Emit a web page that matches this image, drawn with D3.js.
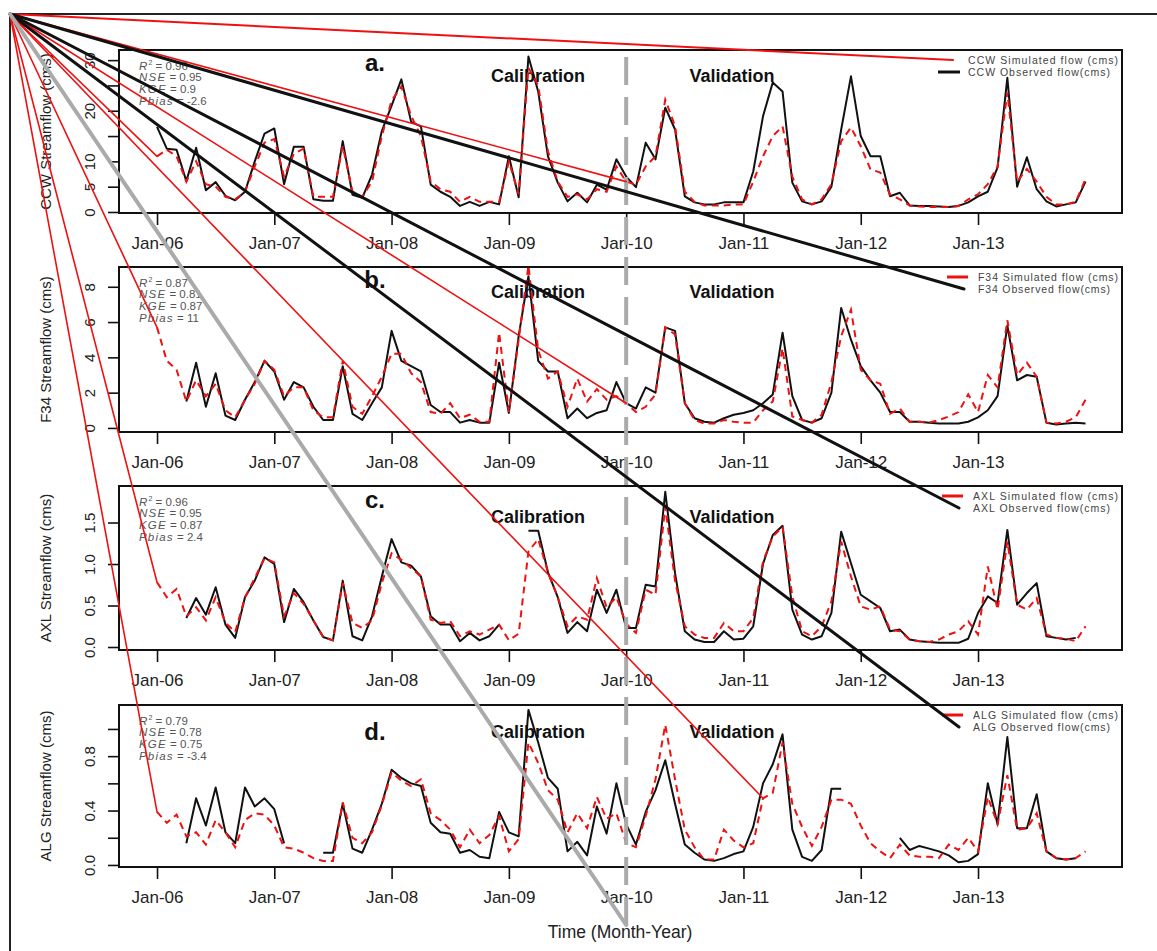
<!DOCTYPE html>
<html><head><meta charset="utf-8">
<script src="https://cdn.jsdelivr.net/npm/d3@7"></script>
<style>body{margin:0;background:#fff}svg{display:block}text{font-family:"Liberation Sans",Arial,sans-serif}</style>
</head><body><svg id="c" width="1157" height="951"></svg>
<script>
const months = d3.range(96);
const xTickMonths = [0,12,24,36,48,60,72,84];
const xTickLabels = ["Jan-06","Jan-07","Jan-08","Jan-09","Jan-10","Jan-11","Jan-12","Jan-13"];
const splitMonth = 48;
const siteNames = ["CCW","F34","AXL","ALG"];
const panelLetters = ["a.","b.","c.","d."];
const statNames = ["R","NSE","KGE","Pbias"];

const ccwObs = [16.8,12.5,12.3,6.1,12.7,4.3,5.9,3.2,2.3,4,10,15.5,16.5,5.5,12.9,12.9,2.5,2.2,2.2,14,3.4,2.8,7.4,16,21,26.2,17.8,16.9,5.4,4,3,1.2,2,1.2,2,1.5,11,2.9,30.7,23.8,11,5.8,2.1,3.8,1.9,5.4,4.4,10.4,7,4.9,13.7,10.4,20.6,16.3,3.1,1.9,1.5,1.5,1.9,1.9,1.9,8,18.9,25.6,23.8,5.8,2.1,1.5,2.1,5,16.3,26.8,15,11,11,3.1,3.8,1.3,1.2,1.2,1.1,1.0,1.2,1.9,3.1,4,8.8,26.5,5,10.8,4.5,2.1,1.1,1.5,1.9,6];
const ccwSim = [11,12.3,11,6,10,5.5,5,3,2.5,4,9,13.7,14.4,7,11.5,12.5,3,3,3,13,4,3,6,15,22,24.8,19,15,6,4.5,4,2,3,2,2,2,10,3.5,28.5,25,12,6,3,3.5,2.5,4.5,4,9,6,5.4,9,11,22.2,17,4,2,1.3,1.3,1.3,1.5,1.5,6,11,15,16.9,7,2.5,1.5,2.5,5.5,14,16.7,13,8.4,7.8,3.4,2.5,1.3,1.1,1.0,1.0,1.0,1.2,2.5,3.5,5.5,9,23.6,6,8.5,6,3,1.5,1.5,2,6.5];

const f34Obs = [null,null,null,1.5,3.7,1.2,3.1,0.7,0.45,1.6,2.6,3.8,3.2,1.6,2.6,2.3,1.2,0.45,0.45,3.5,0.8,0.45,1.4,2.3,5.5,3.8,3.5,3.2,1.3,0.9,0.9,0.3,0.45,0.3,0.3,3.7,0.85,5.2,8.6,3.8,3.2,3.2,0.55,1.1,0.55,0.85,1.0,2.6,1.4,1.1,2.3,2.0,5.7,5.5,1.4,0.55,0.35,0.3,0.55,0.75,0.85,1.0,1.4,1.9,5.4,1.8,0.45,0.3,0.55,2.0,6.8,5.0,3.5,2.7,2.0,0.9,0.9,0.35,0.35,0.3,0.25,0.25,0.25,0.35,0.6,1.0,1.8,5.8,2.7,3.0,2.9,0.3,0.2,0.25,0.3,0.25];
const f34Sim = [5.7,3.8,3.3,1.5,2.7,1.8,2.5,1.0,0.6,1.6,2.5,3.8,3.3,1.8,2.3,2.3,1.0,0.6,0.6,3.8,1.2,0.8,1.8,2.9,4.2,4.2,3.1,2.6,0.9,0.8,1.4,0.55,0.75,0.35,0.35,5.4,0.9,5.0,9.2,4.4,2.8,3.2,1.2,2.8,1.5,2.2,1.6,1.8,1.4,0.9,1.2,1.9,5.7,5.3,1.4,0.45,0.25,0.25,0.45,0.35,0.3,0.3,1.0,1.5,4.5,0.65,0.45,0.3,0.75,2.6,5.2,6.7,3.3,2.7,2.5,0.8,1.1,0.35,0.35,0.3,0.45,0.65,0.9,1.9,0.9,3.0,2.3,6.1,3.0,3.7,2.9,0.3,0.25,0.35,0.6,1.6];

const axlObs = [null,null,null,0.35,0.59,0.39,0.72,0.27,0.11,0.6,0.8,1.08,1.0,0.3,0.7,0.54,0.32,0.12,0.08,0.8,0.13,0.08,0.37,0.85,1.3,1.02,0.98,0.85,0.37,0.27,0.27,0.07,0.17,0.08,0.13,0.27,null,null,1.4,1.4,0.9,0.6,0.17,0.3,0.19,0.69,0.41,0.69,0.23,0.23,0.75,0.73,1.87,0.89,0.19,0.09,0.06,0.06,0.19,0.09,0.1,0.25,1.0,1.35,1.46,0.45,0.15,0.09,0.13,0.41,1.39,1.01,0.63,0.55,0.47,0.19,0.21,0.09,0.07,0.06,0.05,0.05,0.05,0.1,0.41,0.61,0.53,1.41,0.51,0.65,0.77,0.13,0.11,0.09,0.11,null];
const axlSim = [0.78,0.6,0.7,0.37,0.48,0.32,0.6,0.29,0.18,0.6,0.83,1.07,1.02,0.37,0.65,0.52,0.32,0.12,0.08,0.77,0.29,0.23,0.32,0.77,1.13,1.05,0.95,0.85,0.33,0.29,0.31,0.13,0.19,0.15,0.21,0.27,0.08,0.16,1.15,1.3,0.9,0.6,0.25,0.37,0.33,0.83,0.48,0.6,0.28,0.17,0.69,0.63,1.69,0.8,0.25,0.15,0.11,0.11,0.29,0.19,0.19,0.35,1.03,1.33,1.45,0.61,0.19,0.13,0.25,0.55,1.27,0.85,0.49,0.45,0.49,0.21,0.19,0.09,0.07,0.06,0.09,0.15,0.19,0.31,0.15,0.97,0.45,1.27,0.51,0.45,0.59,0.15,0.11,0.1,0.07,0.25];

const algObs = [null,null,null,0.16,0.49,0.29,0.57,0.24,0.16,0.57,0.43,0.49,0.41,0.16,null,null,null,0.09,0.09,0.45,0.12,0.09,0.26,0.45,0.7,0.64,0.6,0.58,0.31,0.24,0.23,0.09,0.11,0.06,0.05,0.39,0.24,0.21,1.14,0.9,0.64,0.56,0.1,0.17,0.07,0.43,0.23,0.6,0.3,0.15,0.39,0.55,0.77,0.45,0.15,0.09,0.04,0.03,0.05,0.08,0.1,0.28,0.6,0.74,0.96,0.26,0.06,0.03,0.11,0.56,0.56,null,null,null,null,null,0.2,0.11,0.14,0.12,0.1,0.07,0.02,0.03,0.08,0.6,0.3,0.94,0.27,0.27,0.52,0.1,0.05,0.04,0.05,null];
const algSim = [0.39,0.31,0.37,0.21,0.24,0.15,0.33,0.24,0.13,0.33,0.38,0.37,0.29,0.13,0.12,0.09,0.05,0.03,0.03,0.46,0.2,0.16,0.24,0.44,0.68,0.62,0.58,0.63,0.38,0.33,0.26,0.13,0.26,0.16,0.22,0.36,0.1,0.19,0.9,0.75,0.55,0.48,0.24,0.38,0.27,0.5,0.34,0.38,0.16,0.13,0.36,0.63,1.03,0.63,0.26,0.13,0.04,0.04,0.26,0.18,0.13,0.16,0.49,0.53,0.9,0.45,0.28,0.14,0.28,0.48,0.48,0.45,0.29,0.16,0.1,0.05,0.15,0.07,0.06,0.06,0.05,0.15,0.11,0.2,0.1,0.5,0.3,0.66,0.26,0.27,0.38,0.1,0.05,0.04,0.05,0.1];

const yTicksA = [0,5,10,15,20,25,30], yLabelsA = ["0","5","10","","20","","30"];
const yTicksB = [0,2,4,6,8], yLabelsB = ["0","2","4","6","8"];
const yTicksC = [0,0.5,1,1.5], yLabelsC = ["0.0","0.5","1.0","1.5"];
const yTicksD = [0,0.2,0.4,0.6,0.8,1.0], yLabelsD = ["0.0","","0.4","","0.8",""];

const statsA = ["0.96","0.95","0.9","-2.6"];
const statsB = ["0.87","0.81","0.87","11"];
const statsC = ["0.96","0.95","0.87","2.4"];
const statsD = ["0.79","0.78","0.75","-3.4"];

const simStartsA = [0,48], simStartsB = [0,48], simStartsC = [0], simStartsD = [0,62];

const panels = [
  {obs:ccwObs, sim:ccwSim, ticks:yTicksA, labels:yLabelsA, stats:statsA, starts:simStartsA, ydom:[-0.2,32.0]},
  {obs:f34Obs, sim:f34Sim, ticks:yTicksB, labels:yLabelsB, stats:statsB, starts:simStartsB, ydom:[-0.23,9.12]},
  {obs:axlObs, sim:axlSim, ticks:yTicksC, labels:yLabelsC, stats:statsC, starts:simStartsC, ydom:[-0.036,1.94]},
  {obs:algObs, sim:algSim, ticks:yTicksD, labels:yLabelsD, stats:statsD, starts:simStartsD, ydom:[-0.015,1.176]}
];

const svg = d3.select("#c");
const X0 = 119, X1 = 1122;
const tops = [50,267,486,705], bots = [213,432,650,867];
const letterOff = [13,13,14,27], calibOff = [26,25,31,27];
const legendX = [968,978,973,973];
const ORIGIN = [10,14];
const x = d3.scaleLinear().domain([-3.89, 98.73]).range([X0, X1]);
const RED = "#ee1111";
const artifacts = [];

// outer frame (top + left)
svg.append("line").attr("x1",ORIGIN[0]).attr("y1",ORIGIN[1]).attr("x2",1157).attr("y2",ORIGIN[1]).attr("stroke","#222").attr("stroke-width",2);
svg.append("line").attr("x1",ORIGIN[0]).attr("y1",ORIGIN[1]).attr("x2",ORIGIN[0]).attr("y2",951).attr("stroke","#222").attr("stroke-width",2);

panels.forEach((p,i)=>{
  const top = tops[i], bot = bots[i];
  const y = d3.scaleLinear().domain(p.ydom).range([bot, top]);
  const g = svg.append("g");
  g.append("rect").attr("x",X0).attr("y",top).attr("width",X1-X0).attr("height",bot-top)
    .attr("fill","none").attr("stroke","#111").attr("stroke-width",2);

  const xa = g.append("g").attr("transform",`translate(0,${bot})`)
    .call(d3.axisBottom(x).tickValues(xTickMonths).tickFormat((d,k)=>xTickLabels[k]).tickSize(12).tickPadding(12));
  xa.select(".domain").remove();
  xa.selectAll("line").attr("stroke","#111").attr("stroke-width",1.6);
  xa.selectAll("text").attr("font-size",17).attr("fill","#222").style("font-family","Liberation Sans, Arial, sans-serif");

  const ya = g.append("g").attr("transform",`translate(${X0},0)`)
    .call(d3.axisLeft(y).tickValues(p.ticks).tickFormat((d,k)=>p.labels[k]).tickSize(11));
  ya.select(".domain").remove();
  ya.selectAll("line").attr("stroke","#111").attr("stroke-width",1.6);
  ya.selectAll("text").attr("x",0).attr("y",-24).attr("dy",null).attr("transform","rotate(-90)")
    .attr("text-anchor","middle").attr("font-size",15).attr("fill","#222").style("font-family","Liberation Sans, Arial, sans-serif");

  g.append("text").attr("transform",`translate(51,${(top+bot)/2}) rotate(-90)`).attr("text-anchor","middle")
    .attr("font-size",15).attr("fill","#222").text(siteNames[i]+" Streamflow (cms)");

  // stats
  const sy = [16,27,39,51];
  p.stats.forEach((v,k)=>{
    const t = g.append("text").attr("x",139).attr("y",top+sy[k]+4).attr("font-size",11.5).attr("fill","#555");
    t.append("tspan").attr("font-style","italic").attr("letter-spacing",1.2).text(statNames[k]);
    if(k===0) t.append("tspan").attr("font-size",7).attr("dy",-5).text("2");
    t.append("tspan").attr("dy",k===0?5:0).text(" = "+v);
  });

  g.append("text").attr("x",375).attr("y",top+letterOff[i]+8).attr("text-anchor","middle")
    .attr("font-size",24).attr("font-weight","bold").attr("fill","#111").text(panelLetters[i]);
  g.append("text").attr("x",538).attr("y",top+calibOff[i]+6).attr("text-anchor","middle")
    .attr("font-size",18).attr("font-weight","bold").attr("fill","#111").text("Calibration");
  g.append("text").attr("x",732).attr("y",top+calibOff[i]+6).attr("text-anchor","middle")
    .attr("font-size",18).attr("font-weight","bold").attr("fill","#111").text("Validation");

  // legend
  const lx = legendX[i], ly1 = top+10, ly2 = top+22;
  g.append("text").attr("x",lx).attr("y",ly1+3.5).attr("font-size",10.5).attr("textLength",1118-lx).attr("lengthAdjust","spacing")
    .attr("fill","#444").text(siteNames[i]+" Simulated flow (cms)");
  g.append("text").attr("x",lx).attr("y",ly2+3.5).attr("font-size",10.5).attr("textLength",1110-lx).attr("lengthAdjust","spacing")
    .attr("fill","#444").text(siteNames[i]+" Observed flow(cms)");
  if(i===0){
    artifacts.push({x:lx-15,y:ly1,c:RED,w:2});
    g.append("line").attr("x1",lx-30).attr("x2",lx-8).attr("y1",ly2).attr("y2",ly2).attr("stroke","#111").attr("stroke-width",3);
  } else {
    g.append("line").attr("x1",lx-31).attr("x2",lx-10).attr("y1",ly1).attr("y2",ly1).attr("stroke",RED).attr("stroke-width",3);
    artifacts.push({x:lx-14,y:ly2,c:"#111",w:3});
  }

  const line = d3.line().defined(d=>d.v!=null).x(d=>x(d.m)).y(d=>y(d.v));
  const obsD = months.map(m=>({m, v:p.obs[m]}));
  const simD = months.map(m=>({m, v:p.sim[m]}));
  g.append("path").attr("d",line(obsD)).attr("fill","none").attr("stroke","#111").attr("stroke-width",2).attr("stroke-linejoin","round");
  g.append("path").attr("d",line(simD)).attr("fill","none").attr("stroke",RED).attr("stroke-width",2).attr("stroke-dasharray","7,5");
  p.starts.forEach(m=>artifacts.push({x:x(m), y:y(p.sim[m]), c:RED, w:1.6}));
});

// calibration / validation divider
const divX = x(splitMonth);
svg.append("line").attr("x1",divX).attr("x2",divX).attr("y1",925).attr("y2",43)
  .attr("stroke","#aaaaaa").attr("stroke-width",4).attr("stroke-dasharray","28,12");
artifacts.push({x:divX, y:925, c:"#aaaaaa", w:4});

svg.append("text").attr("x",620).attr("y",938).attr("text-anchor","middle").attr("font-size",17.5).attr("fill","#222").text("Time (Month-Year)");

// stray strokes from the corner of the figure frame
artifacts.forEach(a=>{
  svg.append("line").attr("x1",ORIGIN[0]).attr("y1",ORIGIN[1]).attr("x2",a.x).attr("y2",a.y)
    .attr("stroke",a.c).attr("stroke-width",a.w).attr("stroke-linecap","round");
});
</script></body></html>
